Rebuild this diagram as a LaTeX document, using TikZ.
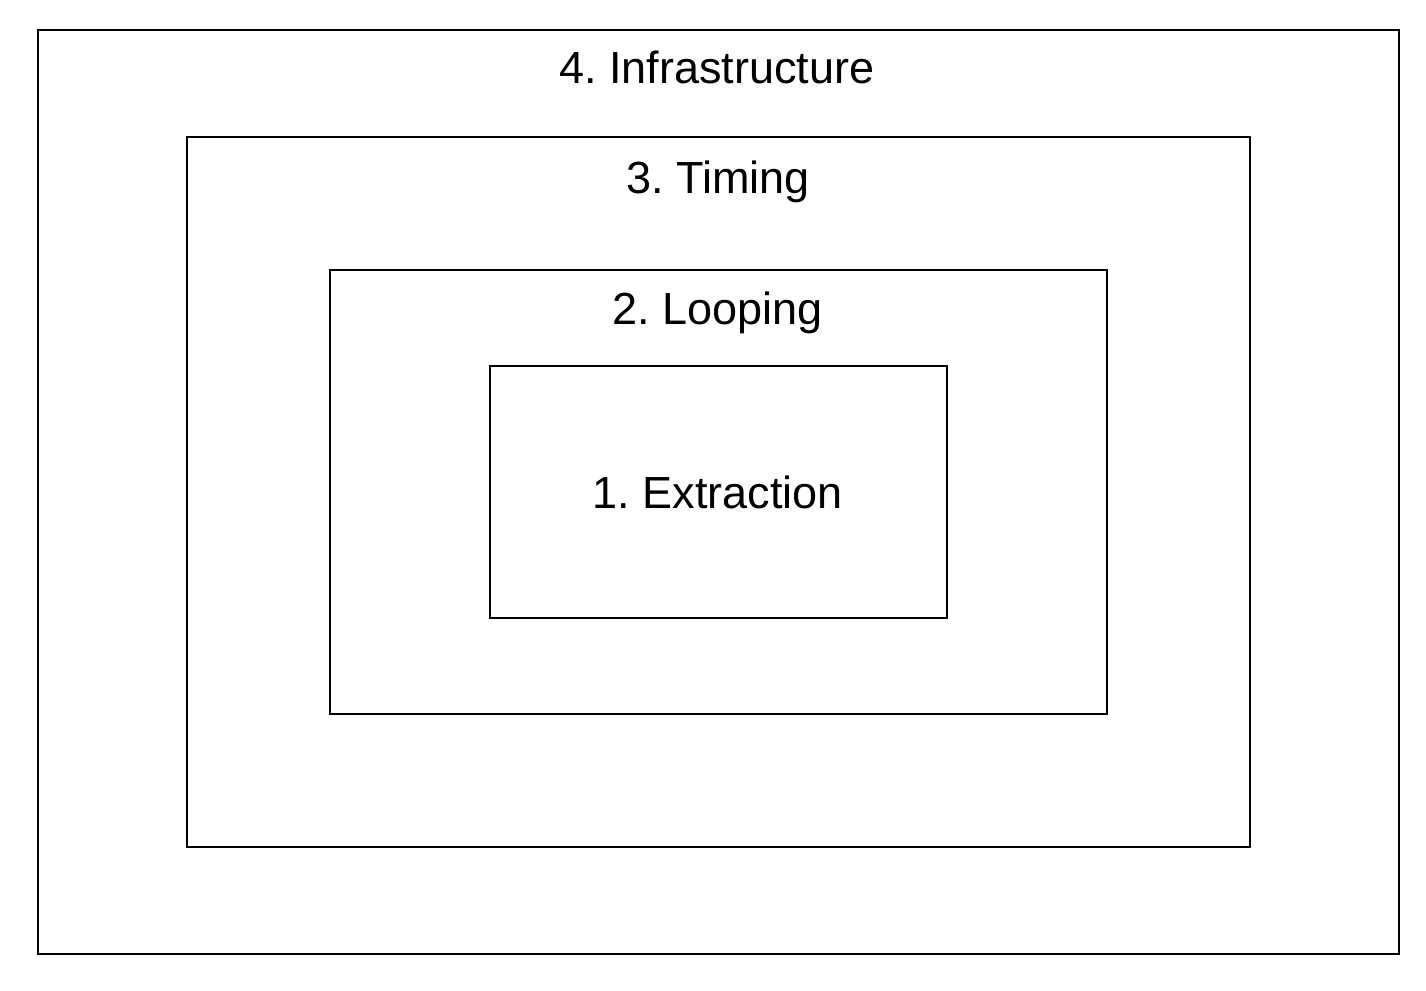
\documentclass[tikz,border=0pt]{standalone}
\usepackage{fontspec}
\setmainfont{Liberation Sans}
\frenchspacing
\begin{document}
\begin{tikzpicture}[x=1pt,y=-1pt,
  layer/.style={draw=black,line width=2.8pt,fill=none,inner sep=0pt,outer sep=0pt},
  title/.style={anchor=base,inner sep=0pt,font=\fontsize{45}{54}\selectfont}]
\useasboundingbox (0,0) rectangle (1426,990);
\fill[white] (0,0) rectangle (1426,990);
\node[layer,minimum width=1361pt,minimum height=924pt] (infra) at (718.5,492) {};
\node[layer,minimum width=1063pt,minimum height=710pt] (timing) at (718.5,492) {};
\node[layer,minimum width=777pt,minimum height=444pt] (looping) at (718.5,492) {};
\node[layer,minimum width=457pt,minimum height=252pt] (extraction) at (718.5,492) {};
\node[title] (tinfra) at (717,84) {4. Infrastructure};
\node[title] (ttiming) at (718,193) {3. Timing};
\node[title] (tlooping) at (718,324) {2. Looping};
\node[title] (textraction) at (718,508) {1. Extraction};
\end{tikzpicture}
\end{document}
